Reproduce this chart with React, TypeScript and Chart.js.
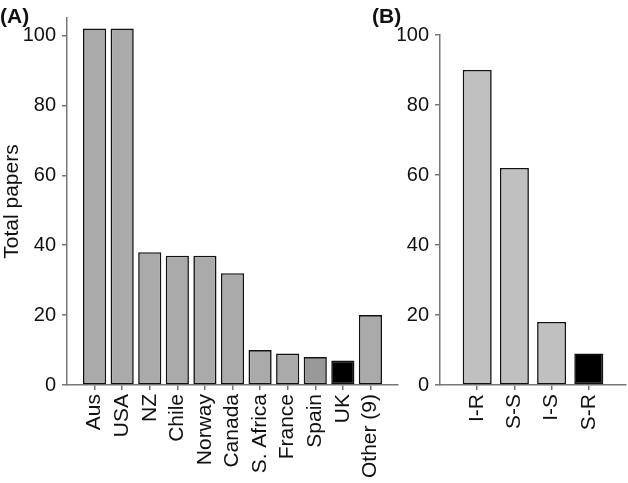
import React, { useEffect, useRef } from 'react';
import { Chart, registerables } from 'chart.js';

Chart.register(...registerables);

const countries = ['Aus', 'USA', 'NZ', 'Chile', 'Norway', 'Canada', 'S. Africa', 'France', 'Spain', 'UK', 'Other (9)'];
const countryPapers = [102, 102, 38, 37, 37, 32, 10, 9, 8, 7, 20];
const countryColors = ['#aaaaaa', '#aaaaaa', '#aaaaaa', '#aaaaaa', '#aaaaaa', '#aaaaaa', '#aaaaaa', '#aaaaaa', '#999999', '#000000', '#aaaaaa'];

const pairs = ['I-R', 'S-S', 'I-S', 'S-R'];
const pairPapers = [90, 62, 18, 9];
const pairColors = ['#c0c0c0', '#c0c0c0', '#c0c0c0', '#000000'];

const yTickValues = [0, 20, 40, 60, 80, 100];

const FONT = "'Liberation Sans', Arial, sans-serif";
const AXIS = '#777777';

type PanelProps = {
  labels: string[];
  values: number[];
  colors: string[];
  yMax: number;
  width: number;
  height: number;
  yWidth: number;
  xHeight: number;
  padTop: number;
  padRight: number;
  barPct: number;
  yTitle?: string;
};

function Panel(p: PanelProps) {
  const ref = useRef<HTMLCanvasElement | null>(null);
  useEffect(() => {
    if (!ref.current) return;
    const n = p.labels.length;
    const chart = new Chart(ref.current, {
      type: 'bar',
      data: {
        datasets: [
          {
            data: p.values.map((v, i) => ({ x: i, y: v })),
            backgroundColor: p.colors,
            borderColor: '#111111',
            borderWidth: 1.6,
            borderSkipped: false,
            barPercentage: p.barPct,
            categoryPercentage: 1,
          },
        ],
      },
      options: {
        responsive: false,
        animation: false,
        devicePixelRatio: 1,
        layout: { padding: { top: p.padTop, right: p.padRight, left: 0, bottom: 0 } },
        plugins: { legend: { display: false }, tooltip: { enabled: false } },
        scales: {
          x: {
            type: 'linear',
            min: -1,
            max: n,
            offset: false,
            afterBuildTicks: (s: any) => {
              s.ticks = p.labels.map((_, i) => ({ value: i }));
            },
            afterFit: (s: any) => {
              s.height = p.xHeight;
            },
            ticks: {
              autoSkip: false,
              minRotation: 90,
              maxRotation: 90,
              padding: 4,
              color: '#111111',
              font: { family: FONT, size: 21 },
              callback: (v: any) => p.labels[v as number] ?? '',
            },
            grid: { display: true, offset: false, drawOnChartArea: false, drawTicks: true, tickLength: 5, color: AXIS, lineWidth: 1.5 },
            border: { display: true, color: AXIS, width: 1.5 },
          },
          y: {
            min: 0,
            max: p.yMax,
            afterBuildTicks: (s: any) => {
              s.ticks = yTickValues.map((v) => ({ value: v }));
            },
            afterFit: (s: any) => {
              s.width = p.yWidth;
            },
            ticks: {
              padding: 6,
              color: '#111111',
              font: { family: FONT, size: 20 },
            },
            title: {
              display: !!p.yTitle,
              text: p.yTitle || '',
              color: '#111111',
              font: { family: FONT, size: 21 },
              padding: 0,
            },
            grid: { display: true, offset: false, drawOnChartArea: false, drawTicks: true, tickLength: 5, color: AXIS, lineWidth: 1.5 },
            border: { display: true, color: AXIS, width: 1.5 },
          },
        },
      },
    });
    return () => chart.destroy();
  }, []);
  return <canvas ref={ref} width={p.width} height={p.height} style={{ display: 'block', width: p.width, height: p.height }} />;
}

const tagStyle: React.CSSProperties = {
  position: 'absolute',
  fontFamily: FONT,
  fontWeight: 'bold',
  fontSize: 21,
  lineHeight: 1,
  color: '#111111',
};

export default function App() {
  return (
    <div style={{ position: 'fixed', left: 0, top: 0, width: 628, height: 483, background: '#ffffff', overflow: 'hidden' }}>
      <div style={{ position: 'absolute', left: 0, top: 0 }}>
        <Panel
          labels={countries}
          values={countryPapers}
          colors={countryColors}
          yMax={105}
          width={400}
          height={483}
          yWidth={67}
          xHeight={98}
          padTop={18}
          padRight={2}
          barPct={0.84}
          yTitle="Total papers"
        />
      </div>
      <div style={{ position: 'absolute', left: 398, top: 0 }}>
        <Panel
          labels={pairs}
          values={pairPapers}
          colors={pairColors}
          yMax={100}
          width={230}
          height={483}
          yWidth={42}
          xHeight={98}
          padTop={35}
          padRight={2}
          barPct={0.78}
        />
      </div>
      <div style={{ ...tagStyle, left: 0, top: 5 }}>(A)</div>
      <div style={{ ...tagStyle, left: 372, top: 5 }}>(B)</div>
    </div>
  );
}
